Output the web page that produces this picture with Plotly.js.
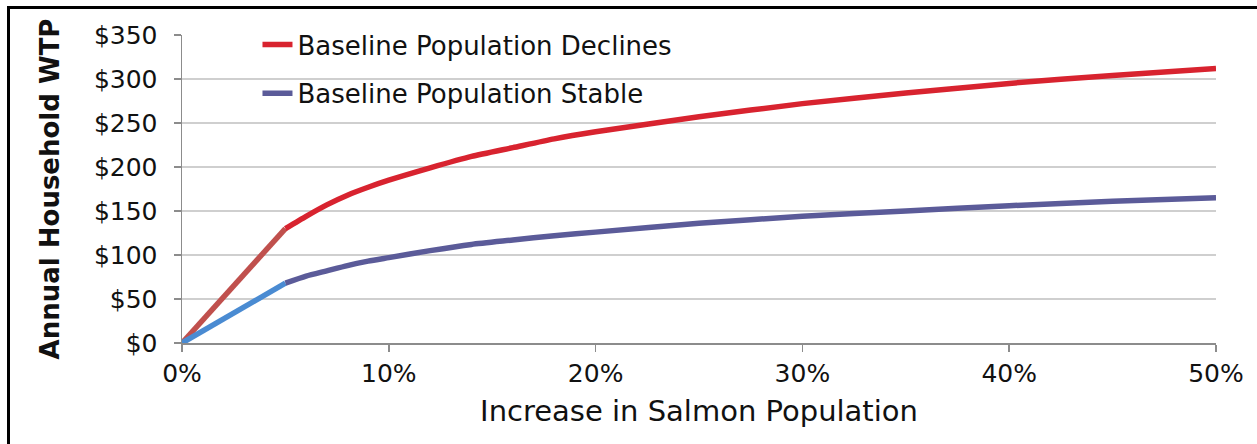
<!DOCTYPE html>
<html>
<head>
<meta charset="utf-8">
<script src="https://cdn.plot.ly/plotly-3.0.1.min.js"></script>
<style>
html,body{margin:0;padding:0;background:#fff;}
#chart{position:absolute;left:0;top:0;width:1257px;height:444px;}
#frame{position:absolute;left:7px;top:6px;width:1400px;height:600px;border-left:3px solid #000;border-top:3px solid #000;pointer-events:none;}
</style>
</head>
<body>
<div id="chart"></div>
<div id="frame"></div>
<script>
// Increase in salmon population (%)
var increasePct = [0, 5, 6, 7, 8, 9, 10, 12, 14, 16, 18, 20, 25, 30, 35, 40, 45, 50];
// Annual household WTP ($)
var wtpDeclines = [0, 130, 144, 157, 168, 177, 185, 199, 212, 222, 232, 240, 257, 272, 284, 295, 304, 312];
var wtpStable   = [0, 68, 76, 82, 88, 93, 97, 105, 112, 117, 122, 126, 136, 144, 150, 156, 161, 165];
var seriesNames = ['Baseline Population Declines', 'Baseline Population Stable'];
var xTickVals = [0, 10, 20, 30, 40, 50];
var xTickText = ['0%', '10%', '20%', '30%', '40%', '50%'];
var yTickVals = [0, 50, 100, 150, 200, 250, 300, 350];
var yTickText = ['$0', '$50', '$100', '$150', '$200', '$250', '$300', '$350'];

var FONT = 'DejaVu Sans, Liberation Sans, Arial, sans-serif';
var LW = 5.5;

var traces = [
  {x: increasePct.slice(0, 2), y: wtpDeclines.slice(0, 2), mode: 'lines', showlegend: false,
   line: {color: '#c0504d', width: LW}, hoverinfo: 'skip'},
  {x: increasePct.slice(0, 2), y: wtpStable.slice(0, 2), mode: 'lines', showlegend: false,
   line: {color: '#4a8bd2', width: LW}, hoverinfo: 'skip'},
  {x: increasePct.slice(1), y: wtpDeclines.slice(1), mode: 'lines', name: seriesNames[0],
   legendgroup: 'a', line: {color: '#d8232f', width: LW, shape: 'spline', smoothing: 0.6}},
  {x: increasePct.slice(1), y: wtpStable.slice(1), mode: 'lines', name: seriesNames[1],
   legendgroup: 'b', line: {color: '#5b5b99', width: LW, shape: 'spline', smoothing: 0.6}}
];

var layout = {
  width: 1257, height: 444,
  margin: {l: 182, r: 41, t: 35, b: 101, pad: 0},
  paper_bgcolor: 'rgba(0,0,0,0)',
  plot_bgcolor: '#fff',
  font: {family: FONT, color: '#111'},
  showlegend: true,
  legend: {
    x: 0.073, y: 1.045, xanchor: 'left', yanchor: 'top',
    bgcolor: 'rgba(0,0,0,0)', borderwidth: 0,
    font: {family: FONT, size: 26, color: '#111'},
    traceorder: 'grouped', tracegroupgap: 12
  },
  xaxis: {
    range: [0, 50], tickvals: xTickVals, ticktext: xTickText,
    showgrid: false, zeroline: false,
    showline: true, linecolor: '#8c8c8c', linewidth: 1.5,
    ticks: 'outside', ticklen: 7, tickcolor: '#8c8c8c', tickwidth: 1.5,
    tickfont: {family: FONT, size: 25, color: '#111'},
    title: {text: 'Increase in Salmon Population', font: {family: FONT, size: 29, color: '#111'}, standoff: 14}
  },
  yaxis: {
    range: [0, 350], tickvals: yTickVals, ticktext: yTickText,
    showgrid: true, gridcolor: '#cfcfcf', gridwidth: 1.5, zeroline: false,
    showline: true, linecolor: '#8c8c8c', linewidth: 1.5,
    ticks: 'outside', ticklen: 7, tickcolor: '#8c8c8c', tickwidth: 1.5,
    ticklabelstandoff: 11,
    tickfont: {family: FONT, size: 25, color: '#111'},
    title: {text: '<b>Annual Household WTP</b>', font: {family: FONT, size: 26, color: '#111'}, standoff: 27}
  }
};

Plotly.newPlot('chart', traces, layout, {displayModeBar: false, staticPlot: true});
</script>
</body>
</html>
